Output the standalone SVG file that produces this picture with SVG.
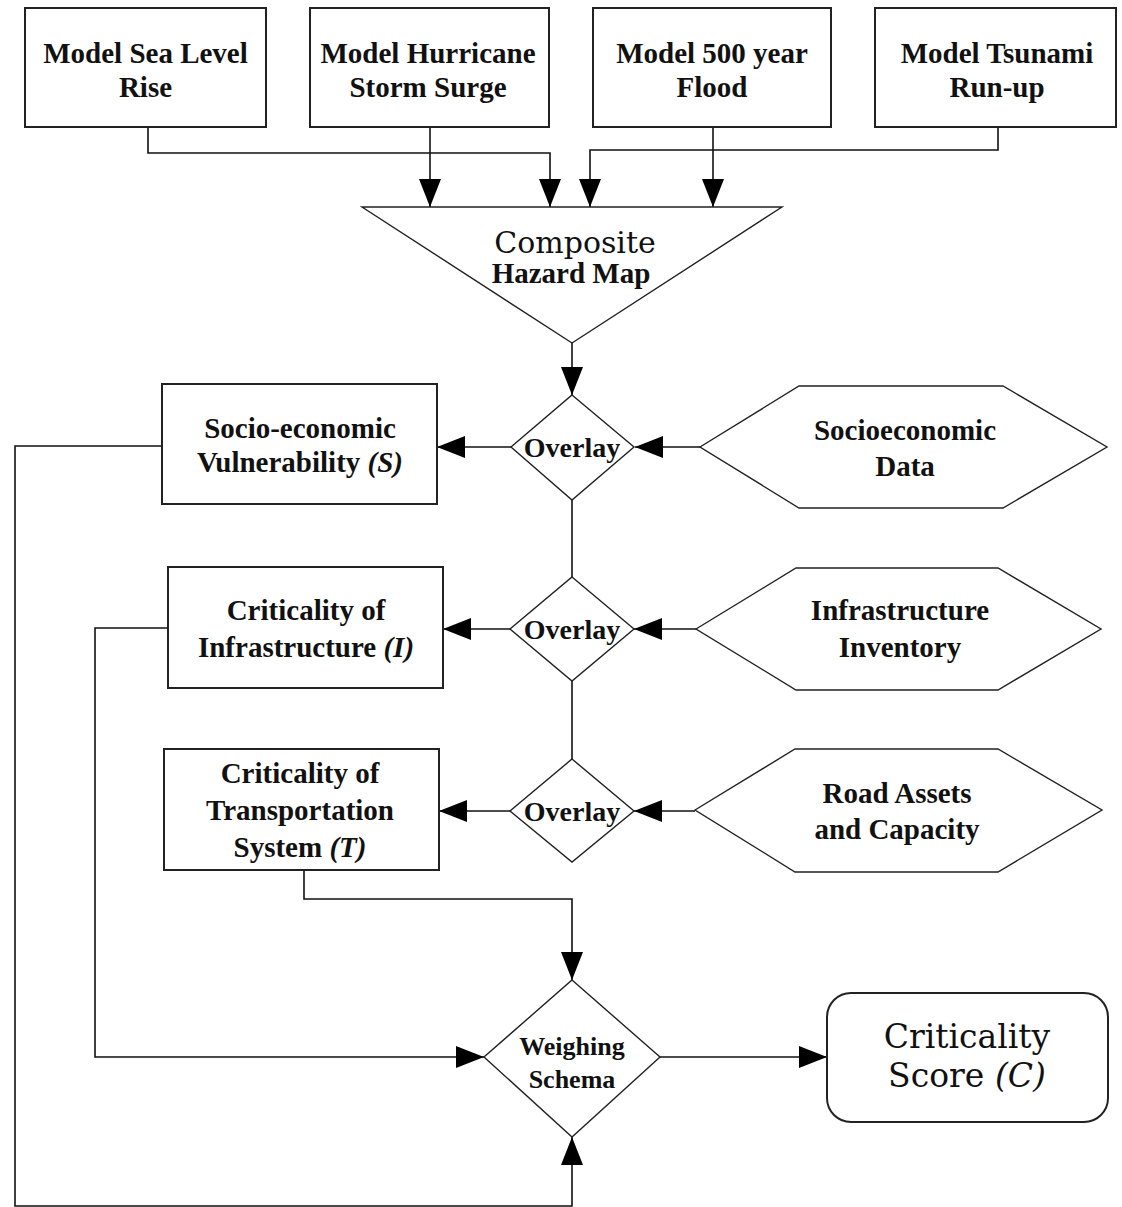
<svg xmlns="http://www.w3.org/2000/svg" width="1122" height="1207" viewBox="0 0 1122 1207">
<style>
.box{fill:#fff;stroke:#222;stroke-width:2}
.shape{fill:#fff;stroke:#222;stroke-width:1.4}
.conn{fill:none;stroke:#111;stroke-width:1.6}
.t{font-family:"Liberation Serif","Times New Roman",serif;font-weight:bold;font-size:29px;fill:#111;text-anchor:middle}
.ov{font-size:28px}
.w{font-size:26px}
.d{font-family:"DejaVu Serif",serif;font-weight:normal;fill:#111;text-anchor:middle}
.i{font-style:italic}
</style>
<defs>
<marker id="ah" markerUnits="userSpaceOnUse" markerWidth="28" markerHeight="22" refX="28" refY="11" orient="auto">
<path d="M0,0 L28,11 L0,22 z" fill="#000"/>
</marker>
</defs>
<rect width="1122" height="1207" fill="#fff"/>
<g id="connectors">
<path class="conn" d="M148,127 V153 H550 V207" marker-end="url(#ah)"/>
<path class="conn" d="M430,127 V207" marker-end="url(#ah)"/>
<path class="conn" d="M713,127 V207" marker-end="url(#ah)"/>
<path class="conn" d="M998,127 V150 H590 V207" marker-end="url(#ah)"/>
<path class="conn" d="M572,343 V395" marker-end="url(#ah)"/>
<path class="conn" d="M572,500 V577"/>
<path class="conn" d="M572,681 V759"/>
<path class="conn" d="M700,447 H635" marker-end="url(#ah)"/>
<path class="conn" d="M511,447 H437" marker-end="url(#ah)"/>
<path class="conn" d="M696,629 H634" marker-end="url(#ah)"/>
<path class="conn" d="M510,629 H443" marker-end="url(#ah)"/>
<path class="conn" d="M695,811 H634" marker-end="url(#ah)"/>
<path class="conn" d="M510,811 H439" marker-end="url(#ah)"/>
<path class="conn" d="M304,870 V899 H572 V980" marker-end="url(#ah)"/>
<path class="conn" d="M168,628 H95 V1057 H484" marker-end="url(#ah)"/>
<path class="conn" d="M162,446 H15 V1206 H572 V1137" marker-end="url(#ah)"/>
<path class="conn" d="M660,1057 H827" marker-end="url(#ah)"/>
</g>
<g id="sea-level">
<rect class="box" x="25" y="8" width="241" height="119"/>
<text class="t" x="145.5" y="63">Model Sea Level</text>
<text class="t" x="145.5" y="97">Rise</text>
</g>
<g id="hurricane">
<rect class="box" x="310" y="8" width="239" height="119"/>
<text class="t" x="428" y="63">Model Hurricane</text>
<text class="t" x="428" y="97">Storm Surge</text>
</g>
<g id="flood">
<rect class="box" x="593" y="8" width="238" height="119"/>
<text class="t" x="712" y="63">Model 500 year</text>
<text class="t" x="712" y="97">Flood</text>
</g>
<g id="tsunami">
<rect class="box" x="875" y="8" width="241" height="119"/>
<text class="t" x="997" y="63">Model Tsunami</text>
<text class="t" x="997" y="97">Run-up</text>
</g>
<g id="composite">
<polygon class="shape" points="362,207 782,207 572,343"/>
<text class="d" x="575" y="253" font-size="30">Composite</text>
<text class="t" x="571" y="283" font-size="27">Hazard Map</text>
</g>
<g id="overlay1">
<polygon class="shape" points="572,395 634,447 572,500 511,447"/>
<text class="t ov" x="572" y="457">Overlay</text>
</g>
<g id="overlay2">
<polygon class="shape" points="572,577 634,629 572,681 510,629"/>
<text class="t ov" x="572" y="639">Overlay</text>
</g>
<g id="overlay3">
<polygon class="shape" points="572,759 634,811 572,862 510,811"/>
<text class="t ov" x="572" y="821">Overlay</text>
</g>
<g id="socio-vuln">
<rect class="box" x="162" y="384" width="275" height="120"/>
<text class="t" x="300" y="438">Socio-economic</text>
<text class="t" x="300" y="472">Vulnerability <tspan class="i">(S)</tspan></text>
</g>
<g id="infra-crit">
<rect class="box" x="168" y="567" width="275" height="121"/>
<text class="t" x="306" y="620">Criticality of</text>
<text class="t" x="306" y="657">Infrastructure <tspan class="i">(I)</tspan></text>
</g>
<g id="transport-crit">
<rect class="box" x="164" y="749" width="275" height="121"/>
<text class="t" x="300" y="783">Criticality of</text>
<text class="t" x="300" y="820">Transportation</text>
<text class="t" x="300" y="857">System <tspan class="i">(T)</tspan></text>
</g>
<g id="socio-data">
<polygon class="shape" points="700,447 799,386 1003,386 1107,447 1003,508 799,508"/>
<text class="t" x="905" y="440">Socioeconomic</text>
<text class="t" x="905" y="476">Data</text>
</g>
<g id="infra-inventory">
<polygon class="shape" points="696,629 796,568 998,568 1101,629 998,690 796,690"/>
<text class="t" x="900" y="620">Infrastructure</text>
<text class="t" x="900" y="657">Inventory</text>
</g>
<g id="road-assets">
<polygon class="shape" points="695,810 795,749 998,749 1102,810 998,872 795,872"/>
<text class="t" x="897" y="803">Road Assets</text>
<text class="t" x="897" y="839">and Capacity</text>
</g>
<g id="weighing">
<polygon class="shape" points="572,980 660,1057 572,1137 484,1057"/>
<text class="t w" x="572" y="1055">Weighing</text>
<text class="t w" x="572" y="1088">Schema</text>
</g>
<g id="score">
<rect class="box" x="827" y="993" width="281" height="129" rx="24" ry="24"/>
<text class="d" x="967" y="1048" font-size="33">Criticality</text>
<text class="d" x="967" y="1087" font-size="33">Score <tspan class="i">(C)</tspan></text>
</g>
</svg>
